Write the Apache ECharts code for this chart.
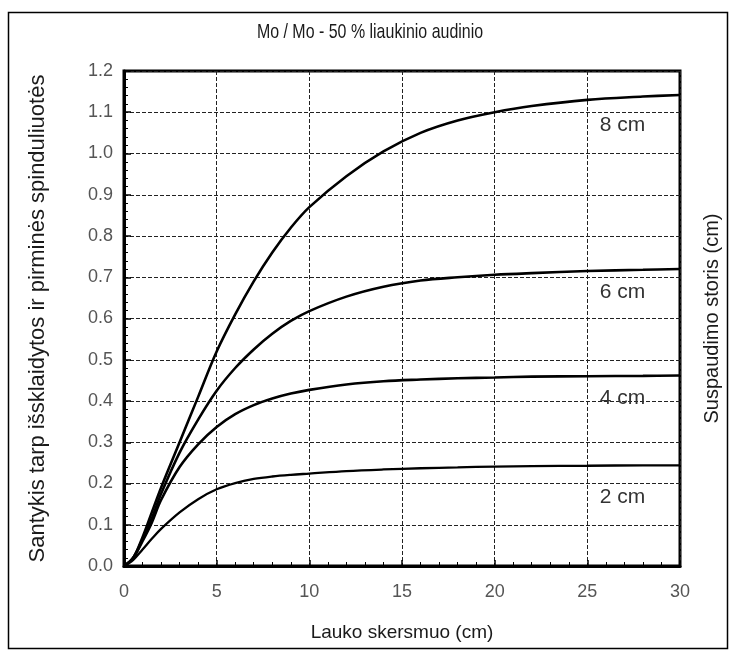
<!DOCTYPE html>
<html>
<head>
<meta charset="utf-8">
<script src="https://cdn.jsdelivr.net/npm/echarts@6/dist/echarts.min.js"></script>
<style>
  html, body { margin: 0; padding: 0; background: #fff; }
  #chart { width: 735px; height: 653px; }
</style>
</head>
<body>
<div id="chart"></div>
<script>
// Scatter-to-primary ratio vs. field diameter for several compression thicknesses
const fieldSize = [0, 0.5, 1, 1.5, 2, 3, 4, 5, 6, 7, 8, 9, 10, 12, 14, 16, 18, 20, 22, 25, 28, 30];

const ratio8cm = [0, 0.02, 0.07, 0.13, 0.19, 0.30, 0.41, 0.52, 0.61, 0.69, 0.76, 0.82, 0.87, 0.945, 1.005, 1.05, 1.08, 1.10, 1.115, 1.13, 1.138, 1.142];
const ratio6cm = [0, 0.02, 0.065, 0.115, 0.175, 0.275, 0.355, 0.425, 0.48, 0.525, 0.563, 0.594, 0.618, 0.653, 0.677, 0.692, 0.70, 0.706, 0.71, 0.715, 0.718, 0.72];
const ratio4cm = [0, 0.02, 0.06, 0.105, 0.16, 0.24, 0.295, 0.337, 0.368, 0.39, 0.406, 0.418, 0.427, 0.44, 0.448, 0.452, 0.455, 0.457, 0.459, 0.46, 0.461, 0.462];
const ratio2cm = [0, 0.015, 0.04, 0.066, 0.09, 0.13, 0.162, 0.186, 0.201, 0.211, 0.217, 0.221, 0.224, 0.23, 0.234, 0.237, 0.239, 0.241, 0.242, 0.243, 0.244, 0.244];

const thicknessNames = ['8 cm', '6 cm', '4 cm', '2 cm'];
// anchor of each curve's caption, in axis units [x, y]
const captionAnchors = [[26.9, 1.068], [26.9, 0.663], [26.9, 0.407], [26.9, 0.167]];

const xTicks = { min: 0, max: 30, interval: 5 };
const yTicks = { min: 0, max: 1.2, interval: 0.1 };

const chartTitle = 'Mo / Mo - 50 % liaukinio audinio';

const FONT = '"Liberation Sans", Arial, sans-serif';
const gridLine = { show: true, lineStyle: { color: '#222', width: 1, type: [4, 2] } };

function pairs(ys) { return fieldSize.map((x, i) => [x, ys[i]]); }

function curve(name, ys, anchor, width) {
  return {
    name: name,
    type: 'line',
    smooth: 0.35,
    showSymbol: false,
    symbol: 'none',
    data: pairs(ys),
    lineStyle: { color: '#000', width: width },
    z: 5,
    markPoint: {
      symbol: 'circle',
      symbolSize: 0,
      data: [{ coord: anchor }],
      label: {
        show: true,
        formatter: name,
        position: 'inside',
        color: '#333',
        fontFamily: FONT,
        fontSize: 21
      }
    }
  };
}

const chart = echarts.init(document.getElementById('chart'), null, { renderer: 'canvas' });
chart.setOption({
  backgroundColor: '#fff',
  animation: false,
  grid: {
    left: 124, right: 55, top: 71, bottom: 87,
    show: true, borderColor: '#000', borderWidth: 3, containLabel: false
  },
  xAxis: {
    type: 'value',
    min: xTicks.min, max: xTicks.max, interval: xTicks.interval,
    name: 'Lauko skersmuo (cm)',
    nameLocation: 'middle', nameGap: 57,
    nameTextStyle: { fontFamily: FONT, fontSize: 19, color: '#1a1a1a' },
    axisLine: { show: true, lineStyle: { color: '#000', width: 3 } },
    axisTick: { show: true, inside: true, length: 6, lineStyle: { color: '#000', width: 1.5 } },
    minorTick: { show: true, splitNumber: 5, length: 4, lineStyle: { color: '#000', width: 1 } },
    axisLabel: { fontFamily: FONT, fontSize: 18, color: '#555', margin: 17 },
    splitLine: gridLine
  },
  yAxis: [{
    type: 'value',
    min: yTicks.min, max: yTicks.max, interval: yTicks.interval,
    name: 'Santykis tarp išsklaidytos ir pirminės spinduliuotės',
    nameLocation: 'middle', nameGap: 75,
    nameTextStyle: { fontFamily: FONT, fontSize: 22, color: '#1a1a1a' },
    axisLine: { show: true, lineStyle: { color: '#000', width: 3 } },
    axisTick: { show: true, inside: true, length: 7, lineStyle: { color: '#000', width: 1.5 } },
    minorTick: { show: true, splitNumber: 5, length: 4, lineStyle: { color: '#000', width: 1 } },
    axisLabel: { fontFamily: FONT, fontSize: 18, color: '#555', margin: 11, formatter: v => v.toFixed(1) },
    splitLine: gridLine
  }, {
    type: 'value',
    position: 'right',
    min: yTicks.min, max: yTicks.max, interval: yTicks.interval,
    name: 'Suspaudimo storis (cm)',
    nameLocation: 'middle', nameGap: 22, nameRotate: 90,
    nameTextStyle: { fontFamily: FONT, fontSize: 20, color: '#1a1a1a' },
    axisLine: { show: false },
    axisTick: { show: false },
    axisLabel: { show: false },
    splitLine: { show: false }
  }],
  graphic: [{
    type: 'rect',
    shape: { x: 8.5, y: 12.5, width: 719, height: 636 },
    style: { fill: null, stroke: '#000', lineWidth: 1.5 },
    z: -1
  }, {
    // condensed title lettering
    type: 'text',
    x: 370, y: 32,
    scaleX: 0.76,
    style: {
      text: chartTitle,
      x: 0, y: 0,
      textAlign: 'center', textVerticalAlign: 'middle',
      fontFamily: FONT, fontSize: 21, fill: '#1a1a1a'
    }
  }],
  series: [
    curve(thicknessNames[0], ratio8cm, captionAnchors[0], 2.6),
    curve(thicknessNames[1], ratio6cm, captionAnchors[1], 2.6),
    curve(thicknessNames[2], ratio4cm, captionAnchors[2], 2.6),
    curve(thicknessNames[3], ratio2cm, captionAnchors[3], 2.3)
  ]
});
</script>
</body>
</html>
